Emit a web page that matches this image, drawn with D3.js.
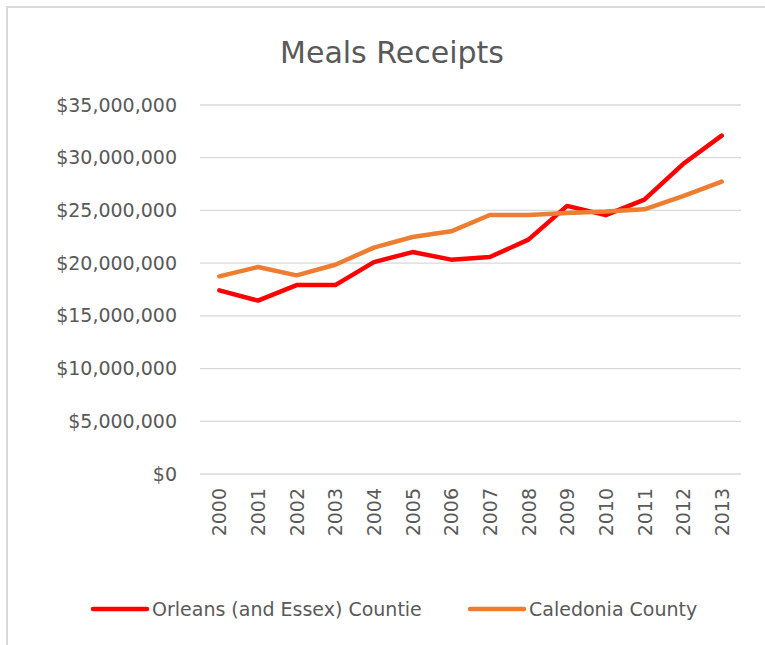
<!DOCTYPE html>
<html>
<head>
<title>Meals Receipts</title>
<script src="https://cdnjs.cloudflare.com/ajax/libs/d3/7.8.5/d3.min.js" charset="utf-8"></script>
<style>
body {
  margin: 0;
  background: #ffffff;
  font-family: "DejaVu Sans", sans-serif;
}
.grid line {
  stroke: #d9d9d9;
  stroke-width: 1.3px;
}
.lbl {
  fill: #595959;
  font-family: "DejaVu Sans", sans-serif;
  font-size: 19px;
}
</style>
</head>
<body>
<svg id="chart" width="765" height="645"></svg>
<script>

// data
var years = ['2000', '2001', '2002', '2003', '2004', '2005', '2006', '2007',
             '2008', '2009', '2010', '2011', '2012', '2013'];
var orleans = [17420000, 16450000, 17920000, 17920000, 20100000, 21050000, 20330000,
               20580000, 22230000, 25430000, 24550000, 26030000, 29400000, 32100000];
var caledonia = [18750000, 19630000, 18840000, 19850000, 21470000, 22480000, 23020000,
                 24570000, 24570000, 24760000, 24890000, 25110000, 26350000, 27730000];
var yTicks = [0, 5000000, 10000000, 15000000, 20000000, 25000000, 30000000, 35000000];
var seriesNames = ['Orleans (and Essex) Countie', 'Caledonia County'];
var seriesColors = ['#ff0000', '#ed7d31'];

var svg = d3.select('#chart');

// chart frame (only top and left edge show in the picture)
svg.append('path')
  .attr('d', 'M7,645 L7,7 L765,7')
  .attr('fill', 'none')
  .attr('stroke', '#d9d9d9')
  .attr('stroke-width', 2);

svg.append('text')
  .attr('x', 392)
  .attr('y', 63)
  .attr('text-anchor', 'middle')
  .style('font-size', '30px')
  .style('fill', '#595959')
  .text('Meals Receipts');

var x = d3.scalePoint().domain(years).range([200, 741]).padding(0.5);
var y = d3.scaleLinear().domain([0, 35000000]).range([474, 105]);

var fmt = d3.format('$,');

// gridlines
svg.append('g').attr('class', 'grid')
  .selectAll('line').data(yTicks).enter().append('line')
  .attr('x1', 200).attr('x2', 741)
  .attr('y1', function(d) { return y(d); })
  .attr('y2', function(d) { return y(d); });

// y axis labels
var yAxis = d3.axisLeft(y).tickValues(yTicks).tickFormat(fmt).tickSize(0).tickPadding(23);
var gy = svg.append('g').attr('transform', 'translate(200,0)').call(yAxis)
  .attr('font-family', null).attr('font-size', null);
gy.select('.domain').remove();
gy.selectAll('text').attr('class', 'lbl');

// x axis labels, rotated
var xAxis = d3.axisBottom(x).tickSize(0);
var gx = svg.append('g').attr('transform', 'translate(0,474)').call(xAxis)
  .attr('font-family', null).attr('font-size', null);
gx.select('.domain').remove();
gx.selectAll('text')
  .attr('class', 'lbl')
  .attr('transform', 'rotate(-90)')
  .attr('text-anchor', 'end')
  .attr('x', -14)
  .attr('y', 0)
  .attr('dy', '0.35em');

// lines
var line = d3.line()
  .x(function(d, i) { return x(years[i]); })
  .y(function(d) { return y(d); });

[orleans, caledonia].forEach(function(s, k) {
  svg.append('path')
    .datum(s)
    .attr('d', line)
    .attr('fill', 'none')
    .attr('stroke', seriesColors[k])
    .attr('stroke-width', 4.5)
    .attr('stroke-linejoin', 'round')
    .attr('stroke-linecap', 'round');
});

// legend
var legendX = [93, 470];
var leg = svg.append('g').selectAll('g').data(seriesNames).enter().append('g')
  .attr('transform', function(d, i) { return 'translate(' + legendX[i] + ',609)'; });
leg.append('line')
  .attr('x1', 0).attr('x2', 54)
  .attr('stroke', function(d, i) { return seriesColors[i]; })
  .attr('stroke-width', 4.5)
  .attr('stroke-linecap', 'round');
leg.append('text')
  .attr('class', 'lbl')
  .attr('x', 59)
  .attr('dy', '0.35em')
  .text(function(d) { return d; });

</script>
</body>
</html>
